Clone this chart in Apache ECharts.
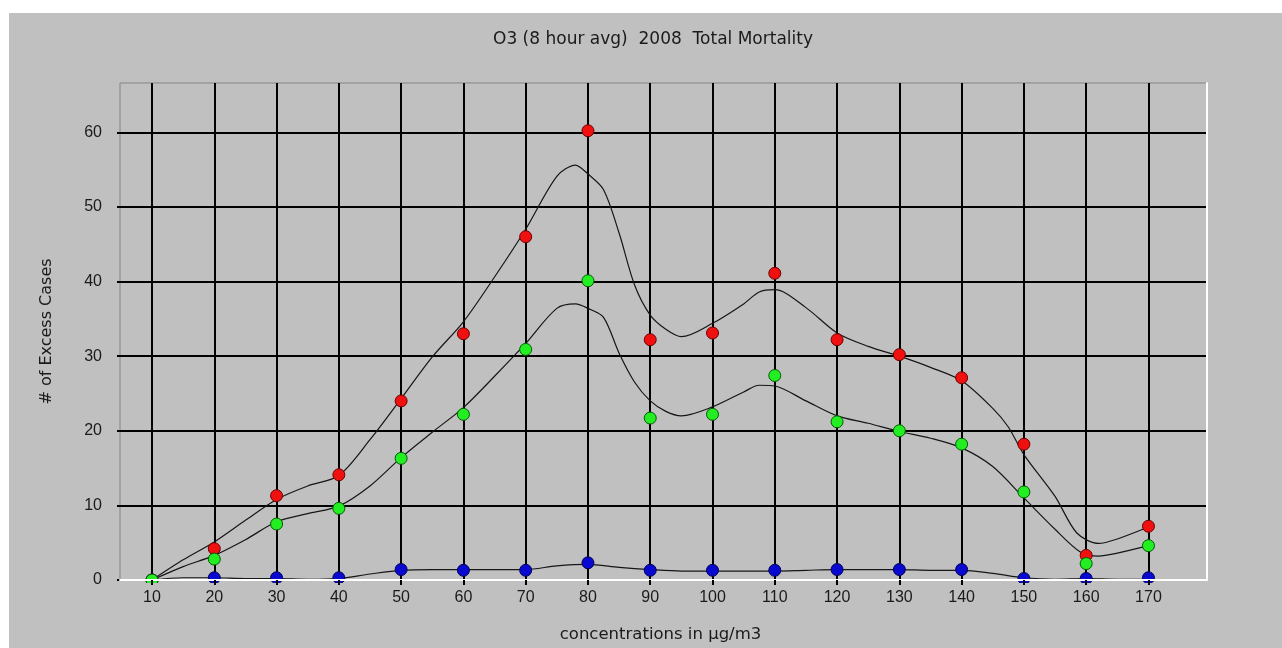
<!DOCTYPE html>
<html>
<head>
<meta charset="utf-8">
<script src="https://cdn.jsdelivr.net/npm/echarts@6/dist/echarts.min.js"></script>
<style>
  html, body { margin: 0; padding: 0; background: #ffffff; }
  #frame { position: absolute; left: 9px; top: 13px; width: 1273px; height: 635px; background: #c0c0c0; }
  #chart { position: absolute; left: 0; top: 0; width: 1282px; height: 648px; }
</style>
</head>
<body>
<div id="frame"></div>
<div id="chart"></div>
<script>
// Concentration categories (µg/m3) and axis ticks
const xTicks = [10, 20, 30, 40, 50, 60, 70, 80, 90, 100, 110, 120, 130, 140, 150, 160, 170];
const yTicks = [0, 10, 20, 30, 40, 50, 60];

// Estimated excess cases per concentration bin
const redPts   = [0, 4.2, 11.3, 14.1, 24.0, 33.0, 46.0, 60.2, 32.2, 33.1, 41.1, 32.2, 30.2, 27.1, 18.2, 3.3, 7.2];
const greenPts = [0, 2.8, 7.5, 9.6, 16.3, 22.2, 30.9, 40.1, 21.7, 22.2, 27.4, 21.2, 20.0, 18.2, 11.8, 2.2, 4.6];
const bluePts  = [0, 0.3, 0.3, 0.3, 1.4, 1.3, 1.3, 2.3, 1.3, 1.3, 1.3, 1.4, 1.4, 1.4, 0.2, 0.2, 0.3];

// Fitted curves
const redFitX = [10, 15, 20, 25, 30, 35, 40, 45, 50, 55, 60, 65, 70, 75, 78, 80, 82.5, 85, 87.5, 90, 92.5, 95, 100, 105, 107.5, 110, 115, 120, 125, 130, 135, 140, 145, 147.5, 150, 155, 158.5, 162, 165, 170];
const redFitY = [0, 2.7, 5.1, 8.0, 10.8, 12.6, 14.0, 18.8, 24.3, 29.9, 34.6, 40.6, 47.0, 54.1, 55.6, 54.4, 52.3, 46.5, 39.5, 35.5, 33.6, 32.6, 34.4, 37.0, 38.6, 38.9, 36.5, 33.1, 31.3, 30.0, 28.5, 26.7, 23.0, 20.5, 16.8, 11.2, 6.3, 4.9, 5.5, 7.1];

const greenFitX = [10, 15, 20, 25, 30, 35, 40, 45, 50, 55, 60, 65, 70, 75, 78, 80, 82.5, 85, 87.5, 90, 92.5, 95, 100, 105, 107.5, 110, 115, 120, 125, 130, 135, 140, 145, 150, 155, 159, 162, 165, 170];
const greenFitY = [0, 1.8, 3.3, 5.4, 7.8, 8.9, 9.9, 12.6, 16.4, 19.8, 23.1, 27.3, 31.7, 36.4, 37.0, 36.4, 35.2, 30.4, 26.5, 24.0, 22.6, 22.0, 23.2, 25.2, 26.1, 26.0, 24.0, 22.0, 21.0, 19.9, 19.0, 17.7, 15.2, 11.0, 6.8, 3.8, 3.2, 3.6, 4.6];

const blueFitX = [10, 15, 20, 25, 30, 35, 40, 45, 50, 55, 60, 65, 70, 75, 80, 85, 90, 95, 100, 105, 110, 115, 120, 125, 130, 135, 140, 145, 150, 155, 160, 165, 170];
const blueFitY = [0, 0.3, 0.3, 0.2, 0.2, 0.1, 0.2, 0.8, 1.3, 1.4, 1.4, 1.4, 1.4, 1.9, 2.1, 1.7, 1.4, 1.2, 1.2, 1.2, 1.2, 1.3, 1.4, 1.4, 1.4, 1.3, 1.3, 0.9, 0.3, 0.1, 0.2, 0.1, 0.1];

const FONT = 'Liberation Sans, Arial, sans-serif';
const WIDE_FONT = 'DejaVu Sans, Verdana, sans-serif';
const X_MIN = 4.86, X_MAX = 179.4, Y_MAX = 66.6;

const pairs = (xs, ys) => xs.map((x, i) => [x, ys[i]]);

function fitSeries(xs, ys) {
  return {
    type: 'line', xAxisIndex: 0, yAxisIndex: 0,
    data: pairs(xs, ys),
    smooth: 0.3, showSymbol: false, silent: true,
    lineStyle: { color: '#161616', width: 1.2 },
    z: 2
  };
}

function pointSeries(ys, fill, edge) {
  return {
    type: 'scatter', xAxisIndex: 0, yAxisIndex: 0,
    data: pairs(xTicks, ys),
    symbol: 'circle', symbolSize: 12,
    itemStyle: { color: fill, borderColor: edge, borderWidth: 1, opacity: 1 },
    silent: true,
    z: 3
  };
}

const chart = echarts.init(document.getElementById('chart'), null, { renderer: 'canvas' });

chart.setOption({
  backgroundColor: 'transparent',
  animation: false,
  title: {
    text: 'O3 (8 hour avg)  2008  Total Mortality',
    left: 488, top: 26,
    textStyle: { fontFamily: WIDE_FONT, fontSize: 17, fontWeight: 'normal', color: '#1a1a1a' }
  },
  grid: {
    left: 120, right: 75, top: 83, bottom: 66,
    show: true, backgroundColor: 'transparent',
    borderColor: '#858585', borderWidth: 1
  },
  xAxis: [
    { // vertical grid lines
      type: 'value', min: X_MIN, max: X_MAX, position: 'bottom', z: 0,
      axisLine: { show: false },
      axisTick: { show: false, customValues: xTicks },
      axisLabel: { show: false, customValues: xTicks },
      splitLine: { show: true, lineStyle: { color: '#000000', width: 2 } }
    },
    { // labels, ticks and lower frame edge
      type: 'value', min: X_MIN, max: X_MAX, position: 'bottom', z: 5,
      name: 'concentrations in µg/m3', nameLocation: 'middle', nameGap: 46,
      nameTextStyle: { fontFamily: WIDE_FONT, fontSize: 16.5, color: '#1a1a1a', padding: [0, 6, 0, 0] },
      axisLine: { show: true, onZero: false, lineStyle: { color: '#ffffff', width: 2 } },
      axisTick: { show: true, customValues: xTicks, length: 5, inside: false, lineStyle: { color: '#000000', width: 2 } },
      axisLabel: { show: true, customValues: xTicks, margin: 10, fontFamily: FONT, fontSize: 16, color: '#1a1a1a' },
      splitLine: { show: false }
    }
  ],
  yAxis: [
    {
      type: 'value', min: 0, max: Y_MAX, position: 'left', z: 0,
      name: '# of Excess Cases', nameLocation: 'middle', nameGap: 65, nameRotate: 90,
      nameTextStyle: { fontFamily: WIDE_FONT, fontSize: 16, color: '#1a1a1a' },
      axisLine: { show: false },
      axisTick: { show: true, customValues: yTicks, length: 3, inside: false, lineStyle: { color: '#000000', width: 2 } },
      axisLabel: { show: true, customValues: yTicks, margin: 18, fontFamily: FONT, fontSize: 16, color: '#1a1a1a' },
      splitLine: { show: true, lineStyle: { color: '#000000', width: 2 } }
    },
    { // right frame edge
      type: 'value', min: 0, max: Y_MAX, position: 'right', z: 5,
      axisLine: { show: true, lineStyle: { color: '#ffffff', width: 2 } },
      axisTick: { show: false }, axisLabel: { show: false }, splitLine: { show: false }
    }
  ],
  graphic: {
    elements: [
      { // keeps markers inside the plot at its lower edge
        type: 'rect', z: 4, silent: true,
        shape: { x: 119, y: 583, width: 1092, height: 62 },
        style: { fill: '#c0c0c0' }
      }
    ]
  },
  series: [
    fitSeries(redFitX, redFitY),
    fitSeries(greenFitX, greenFitY),
    fitSeries(blueFitX, blueFitY),
    pointSeries(redPts, '#f01010', '#6a0000'),
    pointSeries(bluePts, '#0808d0', '#000050'),
    pointSeries(greenPts, '#22ee22', '#005a00')
  ]
});
</script>
</body>
</html>
